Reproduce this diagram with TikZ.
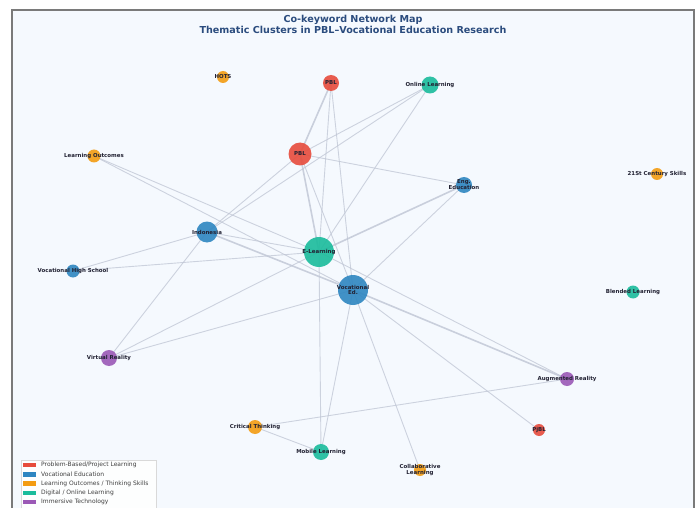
\documentclass[tikz,border=0pt]{standalone}
\usepackage{fontspec}
\setmainfont{DejaVu Sans}
\usetikzlibrary{backgrounds}
\pgfdeclarelayer{edges}
\pgfsetlayers{background,edges,main}
\definecolor{cred}{HTML}{E74C3C}
\definecolor{cblue}{HTML}{2E86C1}
\definecolor{corange}{HTML}{F39C12}
\definecolor{cteal}{HTML}{1ABC9C}
\definecolor{cpurple}{HTML}{9B59B6}
\definecolor{ctitle}{HTML}{2B4C7E}
\definecolor{cedge}{HTML}{BFC5D4}
\definecolor{cframe}{HTML}{7A7A7A}
\definecolor{cpanel}{HTML}{F5F9FE}
\definecolor{clabel}{HTML}{222233}
\tikzset{
  dot/.style={circle,inner sep=0pt,fill=#1,fill opacity=0.9,draw=none},
  lab/.style={font=\fontsize{5.45}{5.9}\selectfont\bfseries,text=clabel,align=center,inner sep=0pt},
  edge/.style={draw=cedge,line width=0.9pt,draw opacity=0.75},
  thick edge/.style={draw=cedge,line width=1.6pt,draw opacity=0.8},
  legtext/.style={font=\fontsize{6}{6.5}\selectfont,text=black!75,anchor=west,inner sep=0pt},
  legpatch/.style={fill=#1,draw=none,minimum width=13pt,minimum height=4.5pt,inner sep=0pt,anchor=west}
}
\begin{document}
\begin{tikzpicture}[x=1pt,y=-1pt]
\useasboundingbox (0,0) rectangle (699,508);
\clip (0,0) rectangle (699,508);
\begin{pgfonlayer}{background}
\fill[white] (0,0) rectangle (699,508);
\draw[cframe,line width=2pt,fill=cpanel] (12,10) rectangle (694,530);
\end{pgfonlayer}
% title
\node[font=\fontsize{9.6}{11.2}\selectfont\bfseries,text=ctitle,align=center] (title) at (353,24.5) {Co-keyword Network Map\\Thematic Clusters in PBL–Vocational Education Research};
% nodes
\node[dot=corange,minimum size=12pt] (hots) at (223,77) {};
\node[dot=cred,minimum size=16pt] (pbltop) at (331,83) {};
\node[dot=cteal,minimum size=17pt] (online) at (430,85) {};
\node[dot=corange,minimum size=13pt] (lo) at (94,156) {};
\node[dot=cred,minimum size=23pt] (pbl) at (300,154) {};
\node[dot=cblue,minimum size=16pt] (eng) at (464,185) {};
\node[dot=corange,minimum size=12pt] (c21) at (657,174) {};
\node[dot=cblue,minimum size=21pt] (indo) at (207,232) {};
\node[dot=cteal,minimum size=30pt] (el) at (319,252) {};
\node[dot=cblue,minimum size=13pt] (vhs) at (73,271) {};
\node[dot=cblue,minimum size=30pt] (ved) at (353,290) {};
\node[dot=cteal,minimum size=13pt] (blend) at (633,292) {};
\node[dot=cpurple,minimum size=16pt] (vr) at (109,358) {};
\node[dot=cpurple,minimum size=14pt] (ar) at (567,379) {};
\node[dot=corange,minimum size=14pt] (ct) at (255,427) {};
\node[dot=cred,minimum size=12pt] (pjbl) at (539,430) {};
\node[dot=cteal,minimum size=16pt] (ml) at (321,452) {};
\node[dot=corange,minimum size=12pt] (cl) at (420,470) {};
% labels
\node[lab] (hotsL) at (hots) {HOTS};
\node[lab] (pbltopL) at (pbltop) {PBL};
\node[lab] (onlineL) at (online) {Online Learning};
\node[lab] (loL) at (lo) {Learning Outcomes};
\node[lab] (pblL) at (pbl) {PBL};
\node[lab] (engL) at (eng) {Eng.\\Education};
\node[lab] (c21L) at (c21) {21St Century Skills};
\node[lab] (indoL) at (indo) {Indonesia};
\node[lab] (elL) at (el) {E-Learning};
\node[lab] (vhsL) at (vhs) {Vocational High School};
\node[lab] (vedL) at (ved) {Vocational\\Ed.};
\node[lab] (blendL) at (blend) {Blended Learning};
\node[lab] (vrL) at (vr) {Virtual Reality};
\node[lab] (arL) at (ar) {Augmented Reality};
\node[lab] (ctL) at (ct) {Critical Thinking};
\node[lab] (pjblL) at (pjbl) {PjBL};
\node[lab] (mlL) at (ml) {Mobile Learning};
\node[lab] (clL) at (cl) {Collaborative\\Learning};
% edges
\begin{pgfonlayer}{edges}
\draw[thick edge] (pbltop.center) -- (pbl.center);
\draw[edge] (pbltop.center) -- (el.center);
\draw[edge] (pbltop.center) -- (ved.center);
\draw[edge] (online.center) -- (pbl.center);
\draw[edge] (online.center) -- (indo.center);
\draw[edge] (online.center) -- (el.center);
\draw[edge] (pbl.center) -- (eng.center);
\draw[thick edge] (pbl.center) -- (el.center);
\draw[edge] (pbl.center) -- (ved.center);
\draw[edge] (pbl.center) -- (indo.center);
\draw[edge] (lo.center) -- (ved.center);
\draw[edge] (lo.center) -- (el.center);
\draw[thick edge] (eng.center) -- (el.center);
\draw[edge] (eng.center) -- (ved.center);
\draw[edge] (indo.center) -- (vhs.center);
\draw[thick edge] (indo.center) -- (ved.center);
\draw[edge] (indo.center) -- (vr.center);
\draw[edge] (indo.center) -- (el.center);
\draw[edge] (vhs.center) -- (el.center);
\draw[edge] (vr.center) -- (ved.center);
\draw[edge] (vr.center) -- (el.center);
\draw[thick edge] (ved.center) -- (ar.center);
\draw[edge] (el.center) -- (ar.center);
\draw[edge] (ved.center) -- (pjbl.center);
\draw[edge] (ved.center) -- (cl.center);
\draw[edge] (ved.center) -- (ml.center);
\draw[edge] (el.center) -- (ml.center);
\draw[edge] (ct.center) -- (ml.center);
\draw[edge] (ct.center) -- (ar.center);
\end{pgfonlayer}
% legend
\node[draw=black!15,fill=white,fill opacity=0.85,line width=0.4pt,minimum width=135pt,minimum height=50pt,anchor=north west,inner sep=0pt] (legend) at (21,460) {};
\node[legpatch=cred] (p1) at (23,465) {};
\node[legpatch=cblue] (p2) at (23,474.3) {};
\node[legpatch=corange] (p3) at (23,483.6) {};
\node[legpatch=cteal] (p4) at (23,492.9) {};
\node[legpatch=cpurple] (p5) at (23,502.2) {};
\node[legtext] (t1) at (41,465) {Problem-Based/Project Learning};
\node[legtext] (t2) at (41,474.3) {Vocational Education};
\node[legtext] (t3) at (41,483.6) {Learning Outcomes / Thinking Skills};
\node[legtext] (t4) at (41,492.9) {Digital / Online Learning};
\node[legtext] (t5) at (41,502.2) {Immersive Technology};
\end{tikzpicture}
\end{document}
